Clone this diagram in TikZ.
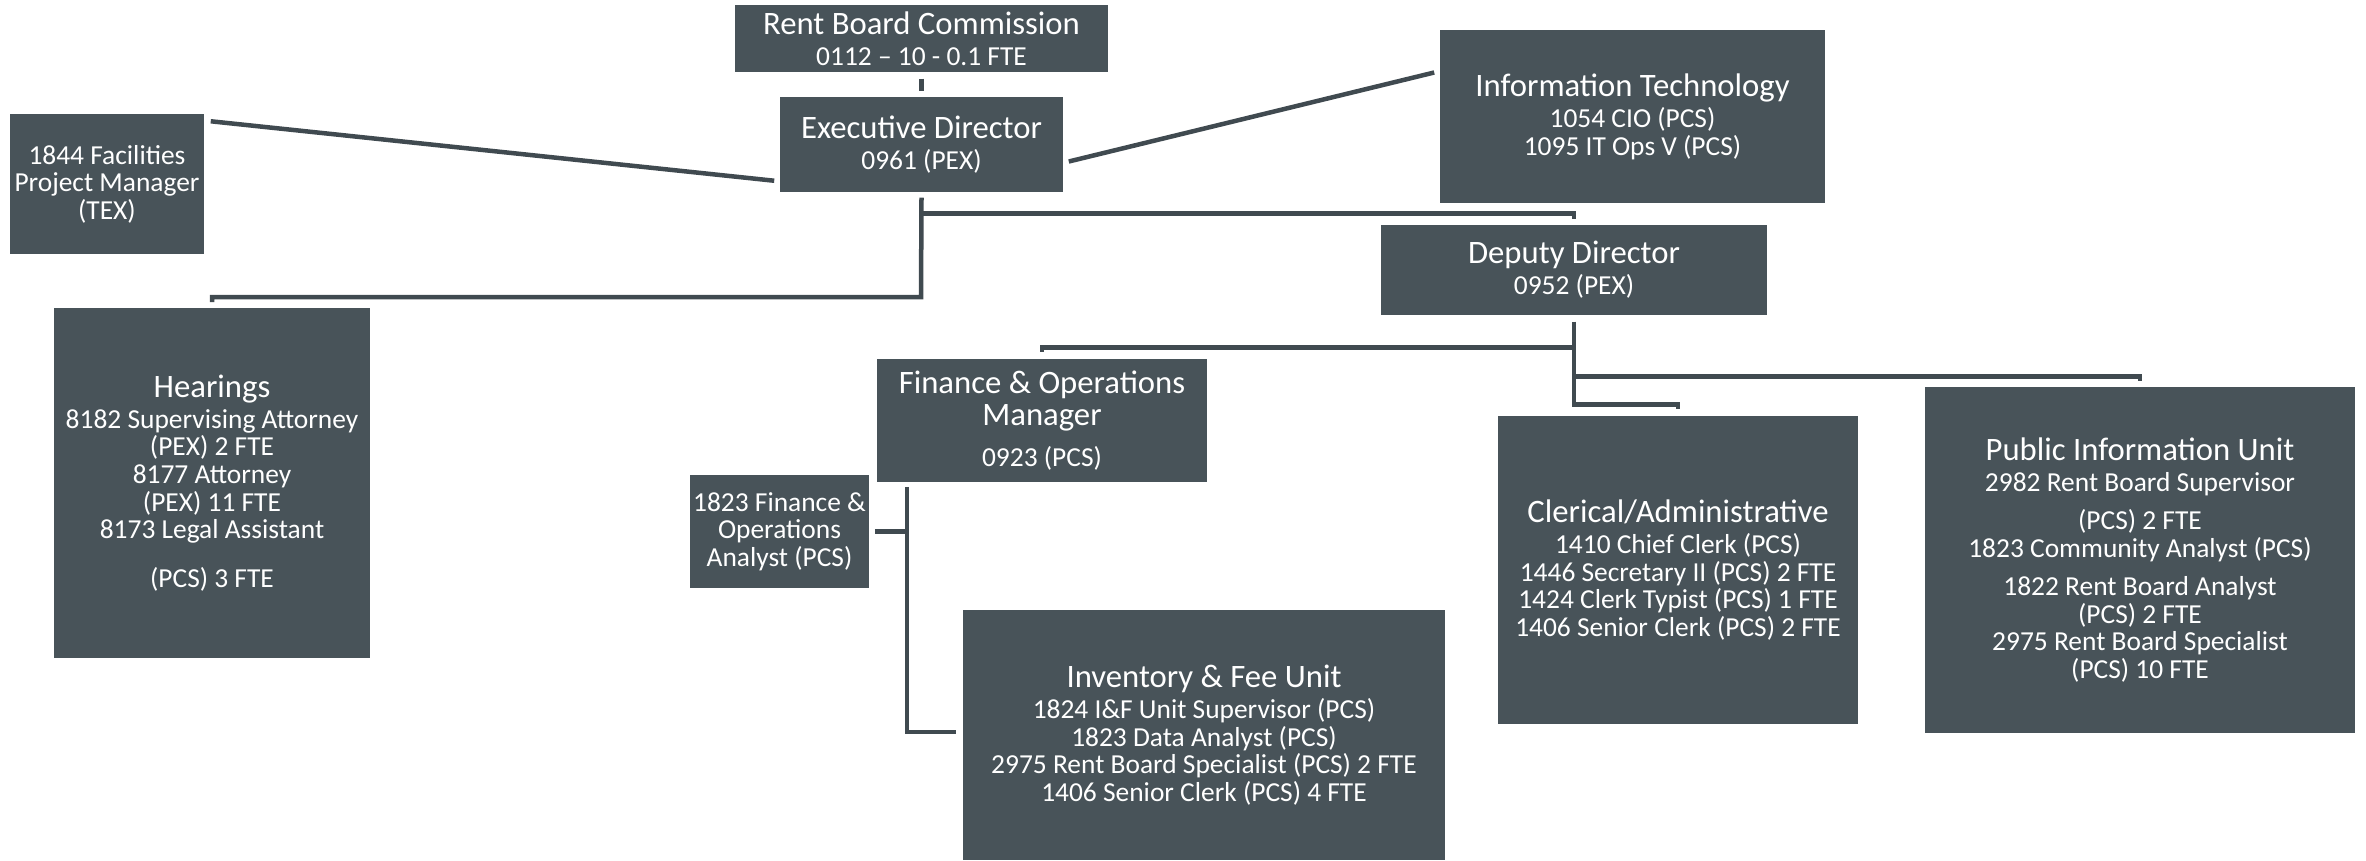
\documentclass[tikz,border=0pt]{standalone}
\usepackage{fontspec}
\setmainfont{Carlito}
\usepackage{tikz}
\usetikzlibrary{calc}
\definecolor{SlateBox}{RGB}{72,83,89}
\definecolor{SlateLine}{RGB}{64,74,80}
\newcommand{\hd}[1]{{\fontsize{9.3}{10}\selectfont #1}}

\begin{document}
\begin{tikzpicture}[x=0.01cm,y=-0.01cm,
    unit/.style 2 args={fill=SlateBox,text=white,align=center,inner sep=0pt,
      minimum width=#1cm,minimum height=#2cm,font=\fontsize{7.8}{7.85}\selectfont},
    link/.style={draw=SlateLine,line width=0.045cm}]
  \useasboundingbox (0,0) rectangle (2366,860);
  % top of the chart
  \node[unit={3.73}{0.67}] (comm) at (921.5,38.5) {\hd{Rent Board Commission}\\[1.1pt]0112 -- 10 - 0.1 FTE};
  \node[unit={2.83}{0.95}] (exec) at (921.5,144.5) {\hd{Executive Director}\\[1pt]0961 (PEX)};
  \node[unit={1.94}{1.40}] (fac) at (107,184) {1844 Facilities\\Project Manager\\(TEX)};
  \node[unit={3.85}{1.73}] (it) at (1632.5,116.5) {\hd{Information Technology}\\[1pt]1054 CIO (PCS)\\1095 IT Ops V (PCS)};
  \node[unit={3.86}{0.90}] (dep) at (1574,270) {\hd{Deputy Director}\\[1pt]0952 (PEX)};
  % units
  \node[unit={3.16}{3.50}] (hear) at (212,483) {\hd{Hearings}\\[1pt]8182 Supervising Attorney\\(PEX) 2 FTE\\8177 Attorney\\(PEX) 11 FTE\\8173 Legal Assistant\\[6pt](PCS) 3 FTE};
  \node[unit={3.30}{1.23}] (fin) at (1042,420.5) {\hd{Finance \& Operations}\\[1.3pt]\hd{Manager}\\[3.6pt]0923 (PCS)};
  \node[unit={1.79}{1.13}] (ana) at (779.5,531.5) {1823 Finance \&\\Operations\\Analyst (PCS)};
  \node[unit={4.82}{2.50}] (inv) at (1204,735) {\hd{Inventory \& Fee Unit}\\[1pt]1824 I\&F Unit Supervisor (PCS)\\1823 Data Analyst (PCS)\\2975 Rent Board Specialist (PCS) 2 FTE\\1406 Senior Clerk (PCS) 4 FTE};
  \node[unit={3.60}{3.08}] (cler) at (1678,570) {\hd{Clerical/Administrative}\\[1pt]1410 Chief Clerk (PCS)\\1446 Secretary II (PCS) 2 FTE\\1424 Clerk Typist (PCS) 1 FTE\\1406 Senior Clerk (PCS) 2 FTE};
  \node[unit={4.30}{3.46}] (pub) at (2140,560) {\hd{Public Information Unit}\\[1pt]2982 Rent Board Supervisor\\[3pt](PCS) 2 FTE\\1823 Community Analyst (PCS)\\[3pt]1822 Rent Board Analyst\\(PCS) 2 FTE\\2975 Rent Board Specialist\\(PCS) 10 FTE};
  % connectors
  \draw[link,shorten <=0.06cm,shorten >=0.05cm] (comm) -- (exec);
  \draw[link] ($(fac.north east)+(6,8)$) -- ($(exec.south west)+(-5,-12)$);
  \draw[link] ($(exec.east)+(5,17)$) -- ($(it.west)+(-5,-44)$);
  \coordinate (ebus) at (921,297);
  \coordinate (ejoin) at ($(exec.south)+(0,21)$);
  \draw[link] ($(exec.south)+(0,5)$) -- (ebus) -| ($(hear.north)+(0,-5)$);
  \draw[link] (ejoin) -| ($(dep.north)+(0,-5)$);
  \coordinate (dbus) at ($(dep.south)+(0,89)$);
  \draw[link] ($(dep.south)+(0,6)$) -- (dbus) -| ($(cler.north)+(0,-6)$);
  \draw[link] ($(dep.south)+(0,32)$) -| ($(fin.north)+(0,-6)$);
  \draw[link] ($(dep.south)+(0,61)$) -| ($(pub.north)+(0,-5)$);
  \coordinate (fbus) at ($(fin.south west)+(31,4)$);
  \draw[link] (fbus) |- ($(inv.west)+(-6,-3)$);
  \draw[link] ($(ana.east)+(5,0)$) -- (ana.east -| fbus);
\end{tikzpicture}
\end{document}
